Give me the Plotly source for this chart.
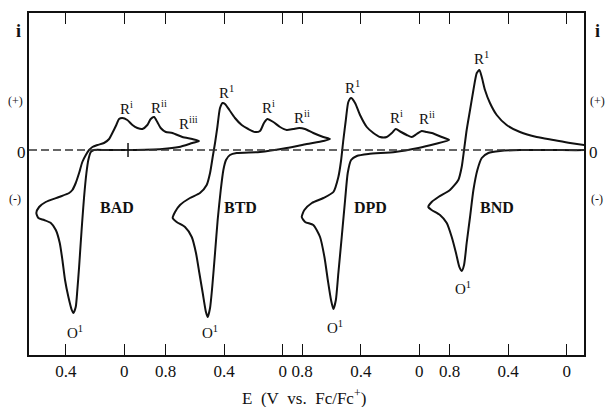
import plotly.graph_objects as go

# ---------------- data (E in V vs Fc/Fc+, i in arbitrary units) ----------------
panels = ["BAD", "BTD", "DPD", "BND"]
# position of each panel's E = 0 on the common horizontal axis (V)
offsets = [0.0, 1.081, 2.014, 3.020]

E_BAD = [-0.51, -0.464, -0.396, -0.328, -0.283, -0.248, -0.225, -0.203, -0.180, -0.157,
         -0.123, -0.089, -0.055, -0.020, 0.014, 0.036, 0.055, 0.082, 0.104, 0.139,
         0.184, 0.218, 0.241, 0.263, 0.287, 0.309, 0.332, 0.355, 0.377, 0.446,
         0.537, 0.582, 0.601, 0.587, 0.548, 0.502, 0.468, 0.441, 0.423, 0.405,
         0.382, 0.359, 0.348, 0.332, 0.321, 0.309, 0.298, 0.287, 0.275, 0.259,
         0.246, 0.229, 0.207, 0.127, -0.032, -0.259, -0.373, -0.464, -0.51]
I_BAD = [9, 11, 13, 17, 18, 22, 28, 33, 31, 25,
         21, 22, 25, 30, 32, 31, 25, 17, 11, 7,
         5, 3, 0, -5, -12, -23, -33, -40, -43, -47,
         -52, -57, -63, -68, -70, -73, -80, -93, -110, -130,
         -147, -160, -163, -157, -140, -117, -93, -70, -47, -23,
         -10, -2, 0, 0, 0, 1, 3, 7, 9]

E_BTD = [-0.323, -0.277, -0.209, -0.152, -0.113, -0.072, -0.027, 0.018, 0.064, 0.105,
         0.128, 0.155, 0.189, 0.235, 0.280, 0.326, 0.364, 0.394, 0.410, 0.428,
         0.446, 0.462, 0.478, 0.496, 0.519, 0.565, 0.633, 0.701, 0.735, 0.751,
         0.724, 0.667, 0.621, 0.592, 0.569, 0.546, 0.524, 0.512, 0.496, 0.481,
         0.462, 0.444, 0.423, 0.405, 0.387, 0.360, 0.314, 0.155, -0.027, -0.164,
         -0.277, -0.323]
I_BTD = [11, 13, 17, 21, 22, 21, 20, 23, 28, 31,
         27, 19, 18, 21, 25, 32, 40, 46, 47, 42,
         23, 7, -7, -23, -35, -43, -48, -55, -62, -68,
         -72, -77, -87, -103, -123, -143, -162, -167, -158, -137,
         -103, -70, -40, -20, -10, -5, -3, -2, 2, 6,
         9, 11]

E_DPD = [-0.203, -0.153, -0.085, -0.050, -0.016, 0.018, 0.052, 0.086, 0.125, 0.161,
         0.188, 0.223, 0.268, 0.314, 0.359, 0.405, 0.439, 0.466, 0.485, 0.502,
         0.519, 0.534, 0.553, 0.587, 0.655, 0.734, 0.785, 0.803, 0.780, 0.724,
         0.678, 0.648, 0.625, 0.603, 0.587, 0.570, 0.553, 0.530, 0.507, 0.489,
         0.466, 0.427, 0.348, 0.166, 0.007, -0.107, -0.203]
I_DPD = [10, 13, 17, 18, 19, 16, 13, 15, 18, 21,
         17, 13, 13, 17, 23, 35, 47, 52, 48, 30,
         10, -10, -27, -42, -48, -53, -60, -67, -72, -75,
         -87, -107, -130, -150, -159, -150, -123, -87, -50, -23,
         -10, -6, -4, -2, 2, 6, 10]

E_BND = [-0.20, -0.125, -0.023, 0.091, 0.205, 0.319, 0.410, 0.478, 0.524, 0.558,
         0.580, 0.596, 0.614, 0.637, 0.660, 0.683, 0.701, 0.717, 0.740, 0.797,
         0.876, 0.922, 0.945, 0.922, 0.865, 0.819, 0.785, 0.756, 0.733, 0.717,
         0.701, 0.683, 0.660, 0.637, 0.610, 0.580, 0.535, 0.455, 0.319, 0.091,
         -0.125, -0.20]
I_BND = [4, 5, 7, 10, 13, 18, 25, 35, 47, 60,
         73, 80, 77, 60, 40, 20, 0, -17, -30, -40,
         -47, -52, -57, -60, -65, -73, -87, -103, -117, -121,
         -115, -93, -67, -40, -20, -8, -3, -1, 0, 0,
         0, 2]

E_data = [E_BAD, E_BTD, E_DPD, E_BND]
I_data = [I_BAD, I_BTD, I_DPD, I_BND]

tick_E = [[0.4, 0.0], [0.8, 0.4, 0.0], [0.8, 0.4, 0.0], [0.8, 0.4, 0.0]]

# peak labels: (panel index, text, E, i)
peak_labels = [
    (0, "R<sup>i</sup>", -0.012, 42), (0, "R<sup>ii</sup>", -0.236, 43),
    (0, "R<sup>iii</sup>", -0.435, 27), (0, "O<sup>1</sup>", 0.337, -182),
    (1, "R<sup>1</sup>", 0.382, 58), (1, "R<sup>i</sup>", 0.098, 43),
    (1, "R<sup>ii</sup>", -0.130, 33), (1, "O<sup>1</sup>", 0.496, -182),
    (2, "R<sup>1</sup>", 0.458, 63), (2, "R<sup>i</sup>", 0.155, 33),
    (2, "R<sup>ii</sup>", -0.050, 32), (2, "O<sup>1</sup>", 0.576, -177),
    (3, "R<sup>1</sup>", 0.580, 92), (3, "O<sup>1</sup>", 0.706, -138),
]
# compound name positions (E, i)
name_pos = [(0.048, -57), (0.291, -57), (0.337, -57), (0.478, -57)]

FONT = "Liberation Serif"
INK = "#111111"

fig = go.Figure()

for k, name in enumerate(panels):
    u = [offsets[k] - e for e in E_data[k]]
    fig.add_trace(go.Scatter(
        x=u, y=I_data[k], mode="lines",
        line=dict(color=INK, width=2, shape="spline", smoothing=0.6),
        showlegend=False, hoverinfo="skip"))

# ticks
tickvals, ticktext = [], []
for k, tl in enumerate(tick_E):
    for e in tl:
        tickvals.append(offsets[k] - e)
        ticktext.append("0" if e == 0 else f"{e:.1f}")

# dashed zero line
fig.add_shape(type="line", xref="paper", yref="y", x0=0, x1=1, y0=0, y1=0,
              line=dict(color="#333333", width=1.3, dash="8px,4px"))
# small marker on zero line in first panel
fig.add_shape(type="line", xref="x", yref="y", x0=offsets[0] - (-0.025), x1=offsets[0] - (-0.025),
              y0=-7, y1=7, line=dict(color=INK, width=1.5))

ann = []
for k, txt, e, i in peak_labels:
    ann.append(dict(x=offsets[k] - e, y=i, xref="x", yref="y", text=txt,
                    showarrow=False, font=dict(family=FONT, size=15, color=INK)))
for k, (e, i) in enumerate(name_pos):
    ann.append(dict(x=offsets[k] - e, y=i, xref="x", yref="y", text="<b>" + panels[k] + "</b>",
                    showarrow=False, font=dict(family=FONT, size=16, color=INK)))

# side labels (paper coordinates)
def side(px, py, text, size):
    ann.append(dict(x=(px - 29) / 555, y=(355 - py) / 342, xref="paper", yref="paper",
                    text=text, showarrow=False, xanchor="center", yanchor="middle",
                    font=dict(family=FONT, size=size, color=INK)))

for px in (18, 597):
    side(px, 31, "<b>i</b>", 18)
for px, pz in ((15, 21), (597, 593)):
    side(px, 101, "(+)", 12)
    side(pz, 152, "0", 17)
    side(px, 199, "(-)", 12)

side(304, 397, "E&nbsp; (V&nbsp; vs.&nbsp; Fc/Fc<sup>+</sup>)", 17)

fig.update_layout(
    width=605, height=407,
    margin=dict(l=29, r=21, t=13, b=52),
    paper_bgcolor="white", plot_bgcolor="white",
    annotations=ann,
    xaxis=dict(range=[-0.651, 3.138], showgrid=False, zeroline=False,
               showline=True, linecolor=INK, linewidth=1.5, mirror="ticks",
               ticks="inside", ticklen=11, tickwidth=1.3, tickcolor=INK,
               tickvals=tickvals, ticktext=ticktext,
               tickfont=dict(family=FONT, size=17, color=INK)),
    yaxis=dict(range=[-205, 137], showgrid=False, zeroline=False,
               showline=True, linecolor=INK, linewidth=1.5, mirror=True,
               showticklabels=False, ticks=""),
)

fig.write_html("out.html")
